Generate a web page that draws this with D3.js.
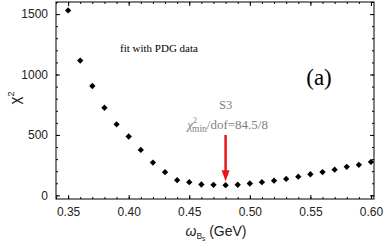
<!DOCTYPE html>
<html>
<head>
<meta charset="utf-8">
<script src="https://cdn.jsdelivr.net/npm/d3@7"></script>
<style>
body { margin: 0; background: #fff; }
text { font-family: "Liberation Sans", Arial, sans-serif; }
.serif { font-family: "Liberation Serif", "Times New Roman", serif; }
</style>
</head>
<body>
<svg width="384" height="243"></svg>
<script>
var omega = [0.35, 0.36, 0.37, 0.38, 0.39, 0.40, 0.41, 0.42, 0.43, 0.44, 0.45, 0.46, 0.47,
             0.48, 0.49, 0.50, 0.51, 0.52, 0.53, 0.54, 0.55, 0.56, 0.57, 0.58, 0.59, 0.60];
var chi2 = [1530, 1115, 905, 725, 588, 487, 376, 271, 192, 126, 109, 90, 87,
            84.5, 88, 98, 109, 122, 136, 155, 175, 193, 213, 236, 253, 277];
var xTicks = [0.35, 0.40, 0.45, 0.50, 0.55, 0.60];
var yTicks = [0, 500, 1000, 1500];
var bestOmega = 0.48;

var svg = d3.select("svg");
var pLeft = 56, pRight = 374, pTop = 2, pBottom = 199;

var x = d3.scaleLinear().domain([0.34, 0.6025]).range([pLeft, pRight]);
var y = d3.scaleLinear().domain([-30, 1600]).range([pBottom, pTop]);

var xMinor = d3.range(34, 61).map(function(d) { return d / 100; });
var yMinor = d3.range(0, 1601, 100);

// frame ticks, pointing inward on all four sides
function tickSet(axisFn, scale, values, size, fmt) {
  return axisFn(scale).tickValues(values).tickSizeInner(-size).tickSizeOuter(0)
    .tickPadding(size + 4).tickFormat(fmt || "");
}

var g = svg.append("g");
g.append("g").attr("transform", "translate(0," + pBottom + ")")
  .call(tickSet(d3.axisBottom, x, xMinor, 2));
g.append("g").attr("transform", "translate(0," + pBottom + ")")
  .call(tickSet(d3.axisBottom, x, xTicks, 4, d3.format(".2f")));
g.append("g").attr("transform", "translate(0," + pTop + ")")
  .call(tickSet(d3.axisTop, x, xMinor, 2));
g.append("g").attr("transform", "translate(0," + pTop + ")")
  .call(tickSet(d3.axisTop, x, xTicks, 4));
g.append("g").attr("transform", "translate(" + pLeft + ",0)")
  .call(tickSet(d3.axisLeft, y, yMinor, 2));
g.append("g").attr("transform", "translate(" + pLeft + ",0)")
  .call(tickSet(d3.axisLeft, y, yTicks, 4, d3.format("d")));
g.append("g").attr("transform", "translate(" + pRight + ",0)")
  .call(tickSet(d3.axisRight, y, yMinor, 2));
g.append("g").attr("transform", "translate(" + pRight + ",0)")
  .call(tickSet(d3.axisRight, y, yTicks, 4));

g.selectAll(".domain").remove();
g.selectAll(".tick line").attr("stroke", "#000");
g.selectAll(".tick text").attr("font-size", 12).attr("fill", "#222")
  .attr("font-family", "Liberation Sans, Arial, sans-serif");

svg.append("rect")
  .attr("x", pLeft).attr("y", pTop)
  .attr("width", pRight - pLeft).attr("height", pBottom - pTop)
  .attr("fill", "none").attr("stroke", "#000").attr("stroke-width", 1);

// data points
svg.selectAll(".pt")
  .data(omega)
  .enter().append("path")
  .attr("class", "pt")
  .attr("d", d3.symbol().type(d3.symbolSquare).size(20))
  .attr("transform", function(d, i) {
    return "translate(" + x(d) + "," + y(chi2[i]) + ") rotate(45)";
  })
  .attr("fill", "#000");

// arrow to best fit
var bestChi = chi2[omega.indexOf(bestOmega)];
var ax = x(bestOmega);
svg.append("line")
  .attr("x1", ax).attr("x2", ax)
  .attr("y1", 135).attr("y2", y(bestChi) - 12)
  .attr("stroke", "#e8141a").attr("stroke-width", 2.5);
svg.append("path")
  .attr("d", "M" + (ax - 4) + "," + (y(bestChi) - 15) + "L" + (ax + 4) + "," + (y(bestChi) - 15) +
             "L" + ax + "," + (y(bestChi) - 4) + "Z")
  .attr("fill", "#e8141a");

svg.append("text").attr("class", "serif")
  .attr("x", ax).attr("y", 109).attr("text-anchor", "middle")
  .attr("font-size", 12.5).attr("fill", "#808080").text("S3");

var lab = svg.append("text").attr("class", "serif")
  .attr("x", ax + 2).attr("y", 129).attr("text-anchor", "middle")
  .attr("font-size", 13).attr("fill", "#808080");
lab.append("tspan").attr("font-style", "italic").text("χ");
lab.append("tspan").attr("font-size", 8).attr("dy", -6).text("2");
lab.append("tspan").attr("font-size", 9.5).attr("dx", -5).attr("dy", 9).text("min");
lab.append("tspan").attr("dy", -3).text("/dof=84.5/8");

svg.append("text").attr("class", "serif")
  .attr("x", 120).attr("y", 52)
  .attr("font-size", 11).attr("fill", "#000").text("fit with PDG data");

svg.append("text").attr("class", "serif")
  .attr("x", 319).attr("y", 85).attr("text-anchor", "middle")
  .attr("font-size", 23).attr("fill", "#000").text("(a)");

// axis titles
var yl = svg.append("text")
  .attr("transform", "translate(20,98) rotate(-90)")
  .attr("text-anchor", "middle").attr("font-size", 15).attr("fill", "#222");
yl.append("tspan").text("χ");
yl.append("tspan").attr("font-size", 9).attr("dy", -6).text("2");

var xl = svg.append("text")
  .attr("x", 216).attr("y", 236).attr("text-anchor", "middle")
  .attr("font-size", 14).attr("fill", "#222");
xl.append("tspan").attr("font-style", "italic").text("ω");
xl.append("tspan").attr("font-size", 8.5).attr("dy", 3).text("B");
xl.append("tspan").attr("font-size", 6.5).attr("dy", 2).text("s");
xl.append("tspan").attr("dy", -5).text(" (GeV)");
</script>
</body>
</html>
